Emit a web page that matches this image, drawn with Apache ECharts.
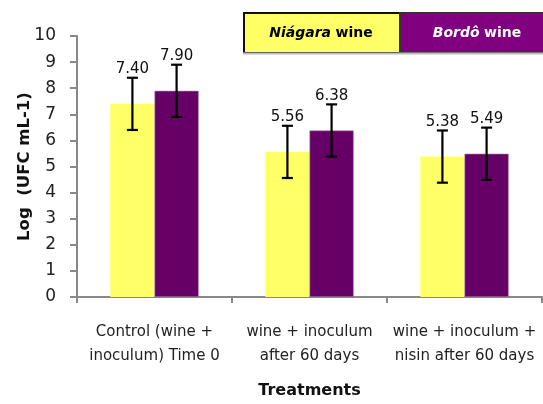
<!DOCTYPE html>
<html><head><meta charset="utf-8">
<script src="https://cdn.jsdelivr.net/npm/echarts@6/dist/echarts.min.js"></script>
<style>html,body{margin:0;padding:0;background:#fff}#c{width:543px;height:404px}</style>
</head><body><div id="c"></div>
<script>
var categories = ['Control (wine +\ninoculum) Time 0', 'wine + inoculum\nafter 60 days', 'wine + inoculum +\nnisin after 60 days'];
var niagara = [7.40, 5.56, 5.38];
var bordo = [7.90, 6.38, 5.49];
var niagaraErr = [1, 1, 1];
var bordoErr = [1, 1, 1];
var yTicks = [0, 10, 1];

var FONT = 'DejaVu Sans';
var GAP = 0.43;

function errSeries(vals, errs, idx) {
  return {
    type: 'custom',
    z: 10,
    data: vals.map(function (v, i) { return [i, v, errs[i]]; }),
    renderItem: function (params, api) {
      var i = api.value(0), v = api.value(1), e = api.value(2);
      var band = api.size([1, 0])[0];
      var bw = band * (1 - GAP) / 2;
      var c = api.coord([i, v]);
      var x = c[0] + (idx === 0 ? -bw / 2 : bw / 2);
      var top = api.coord([i, v + e])[1];
      var bot = api.coord([i, v - e])[1];
      var cap = 5.5;
      var st = { stroke: '#000', lineWidth: 2.2 };
      return { type: 'group', children: [
        { type: 'line', shape: { x1: x, y1: top, x2: x, y2: bot }, style: st },
        { type: 'line', shape: { x1: x - cap, y1: top, x2: x + cap, y2: top }, style: st },
        { type: 'line', shape: { x1: x - cap, y1: bot, x2: x + cap, y2: bot }, style: st },
        { type: 'text', x: x, y: top - 1, style: { text: v.toFixed(2), fill: '#111', font: '15px ' + FONT, textAlign: 'center', textVerticalAlign: 'bottom' } }
      ]};
    }
  };
}

var chart = echarts.init(document.getElementById('c'));
chart.setOption({
  animation: false,
  grid: { left: 77, right: 1, top: 36, bottom: 105, containLabel: false },
  xAxis: {
    type: 'category', data: categories,
    name: 'Treatments', nameLocation: 'middle', nameGap: 86, nameMoveOverlap: false,
    nameTextStyle: { fontFamily: FONT, fontWeight: 'bold', fontSize: 16, color: '#111' },
    axisLine: { lineStyle: { color: '#888', width: 2 } },
    axisTick: { show: true, length: 6, lineStyle: { color: '#888', width: 2 } },
    axisLabel: { interval: 0, fontFamily: FONT, fontSize: 15, color: '#222', margin: 23, lineHeight: 24 }
  },
  yAxis: {
    type: 'value', min: yTicks[0], max: yTicks[1], interval: yTicks[2],
    name: 'Log  (UFC mL-1)', nameLocation: 'middle', nameGap: 44, nameRotate: 90, nameMoveOverlap: false,
    nameTextStyle: { fontFamily: FONT, fontWeight: 'bold', fontSize: 16.5, color: '#111' },
    axisLine: { show: true, lineStyle: { color: '#888', width: 2 } },
    axisTick: { show: true, length: 7, lineStyle: { color: '#888', width: 2 } },
    splitLine: { show: false },
    axisLabel: { fontFamily: FONT, fontSize: 17, color: '#222', margin: 21 }
  },
  series: [
    { name: 'Niágara wine', type: 'bar', data: niagara, barGap: '0%', barCategoryGap: (GAP * 100) + '%',
      itemStyle: { color: '#FFFF66' } },
    { name: 'Bordô wine', type: 'bar', data: bordo,
      itemStyle: { color: '#660066', borderColor: '#b080b0', borderWidth: 0.6 } },
    errSeries(niagara, niagaraErr, 0),
    errSeries(bordo, bordoErr, 1)
  ],
  graphic: [
    { type: 'rect', left: 243, top: 12, shape: { width: 156, height: 40 }, style: { fill: '#FFFF66', stroke: '#111', lineWidth: 2 } },
    { type: 'rect', left: 399, top: 12, shape: { width: 146, height: 40 }, style: { fill: '#800080', stroke: '#333', lineWidth: 2 } },
    { type: 'line', shape: { x1: 243, y1: 53.5, x2: 543, y2: 53.5 }, style: { stroke: '#bbb', lineWidth: 2 } },
    { type: 'text', x: 321, y: 33, style: { text: '{i|Niágara}{s| }{b|wine}', textAlign: 'center', textVerticalAlign: 'middle',
        rich: { i: { fontFamily: FONT, fontSize: 14, fontWeight: 'bold', fontStyle: 'italic', fill: '#000' },
                s: { fontFamily: FONT, fontSize: 14, fill: '#000' },
                b: { fontFamily: FONT, fontSize: 14, fontWeight: 'bold', fill: '#000' } } } },
    { type: 'text', x: 477, y: 33, style: { text: '{i|Bordô}{s| }{b|wine}', textAlign: 'center', textVerticalAlign: 'middle',
        rich: { i: { fontFamily: FONT, fontSize: 14, fontWeight: 'bold', fontStyle: 'italic', fill: '#fff' },
                s: { fontFamily: FONT, fontSize: 14, fill: '#fff' },
                b: { fontFamily: FONT, fontSize: 14, fontWeight: 'bold', fill: '#fff' } } } }
  ]
});
</script></body></html>
